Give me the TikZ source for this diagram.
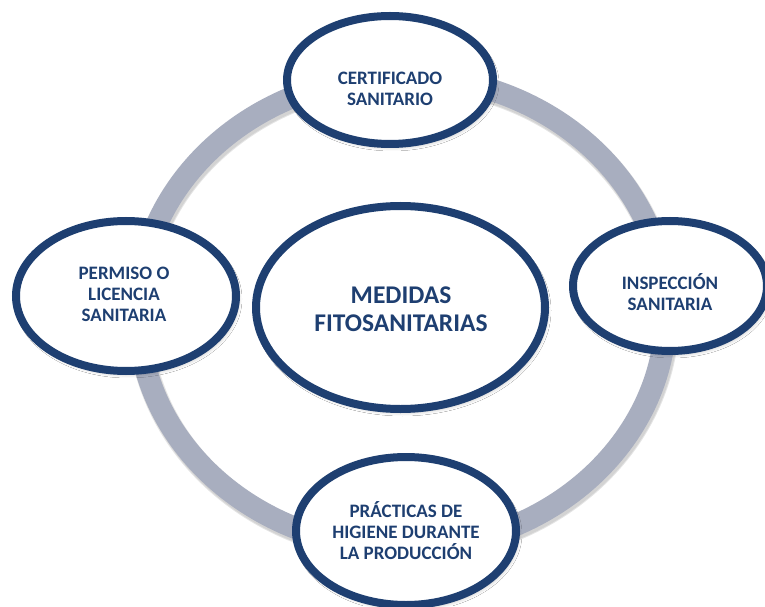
\documentclass[tikz,border=0pt]{standalone}
\usepackage{fontspec}
\setmainfont{Carlito}
\usetikzlibrary{shapes.geometric,shadows.blur}
\definecolor{navy}{RGB}{30,63,113}
\definecolor{ringgray}{RGB}{168,174,191}
\tikzset{
  bubble/.style={ellipse, draw=navy, line width=8pt, fill=white, inner sep=0pt,
    blur shadow={shadow xshift=2pt, shadow yshift=-3pt, shadow blur radius=4pt, shadow opacity=30}},
  lbl/.style={align=center, text=navy, font=\bfseries\fontsize{19}{21}\selectfont, inner sep=0pt},
  biglbl/.style={align=center, text=navy, font=\bfseries\fontsize{25.5}{28}\selectfont, inner sep=0pt}
}
\begin{document}
\begin{tikzpicture}[x=1pt,y=1pt]
\useasboundingbox (0,0) rectangle (765,606);
\clip (0,0) rectangle (765,606);
\fill[white] (0,0) rectangle (765,606);
% ring with soft shadow
\coordinate (rc) at (402,294);
\coordinate (rcs) at (403.5,291);
\draw[black, opacity=0.10, line width=24pt] (rcs) ellipse [x radius=264, y radius=236];
\draw[black, opacity=0.08, line width=22pt] (rcs) ellipse [x radius=264, y radius=236];
\draw[ringgray, line width=22pt] (rc) ellipse [x radius=264, y radius=236];
% bubbles
\node[bubble, minimum width=206pt, minimum height=128pt] (top) at (390,526) {};
\node[bubble, minimum width=220pt, minimum height=150pt] (left) at (126,310) {};
\node[bubble, minimum width=194pt, minimum height=130pt] (right) at (670,320) {};
\node[bubble, minimum width=220pt, minimum height=148pt] (bottom) at (406,75) {};
\node[bubble, minimum width=289pt, minimum height=203pt] (center) at (400.5,298.5) {};
% texts
\node[lbl] (toplbl) at (390,517) {CERTIFICADO\\SANITARIO};
\node[lbl] (leftlbl) at (124,311.5) {PERMISO O\\LICENCIA\\SANITARIA};
\node[lbl] (rightlbl) at (670,314) {INSPECCIÓN\\SANITARIA};
\node[lbl] (bottomlbl) at (406,75.5) {PRÁCTICAS DE\\HIGIENE DURANTE\\LA PRODUCCIÓN};
\node[biglbl] (centerlbl) at (401,297) {MEDIDAS\\FITOSANITARIAS};
\end{tikzpicture}
\end{document}
